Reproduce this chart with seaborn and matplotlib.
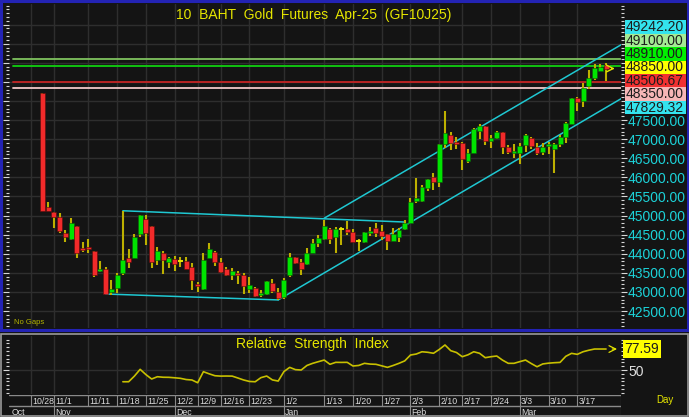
import numpy as np
import pandas as pd
import matplotlib
matplotlib.use("Agg")
import matplotlib.pyplot as plt
import matplotlib.transforms as mtransforms
from matplotlib.patches import Rectangle
from matplotlib.ticker import MultipleLocator, FuncFormatter
import seaborn as sns

# ---- data -------------------------------------------------------------
# TFEX trading calendar (Thai market holidays removed)
cal_start, cal_end = "2024-10-28", "2025-03-24"
holidays = ["2024-12-05", "2024-12-10", "2024-12-31", "2025-01-01", "2025-02-12"]
first_bar = "2024-10-30"

opens = [48210, 45215, 45085, 44955, 44550, 44375, 44735, 44155, 44175, 44080,
         43545, 43590, 43000, 43110, 43485, 43895, 43890, 44515, 44900, 44735,
         43835, 44025, 43790, 43870, 43810, 43810, 43660, 43205, 43075, 43880,
         44050, 43775, 43600, 43435, 43505, 43435, 43085, 43100, 42910, 42935,
         43225, 43005, 42860, 43435, 43905, 43785, 43740, 44025, 44290, 44395,
         44655, 44430, 44640, 44640, 44570, 44325, 44315, 44535, 44665, 44585,
         44510, 44340, 44430, 44640, 44810, 45390, 45390, 45710, 46000, 45885,
         46865, 47110, 46915, 46890, 46425, 46645, 47210, 47345, 46950, 47020,
         47180, 46800, 46645, 46630, 46845, 47035, 46800, 46670, 46810, 46740,
         46865, 47050, 47390, 48085, 48000, 48400, 48610, 48790, 48940]
highs = [48210, 45360, 45085, 45060, 44620, 44925, 44735, 44305, 44375, 44080,
         43810, 43660, 43310, 43505, 45125, 44115, 44515, 45005, 45005, 44735,
         44175, 44080, 43920, 43940, 43915, 43905, 43765, 43265, 44010, 44270,
         44070, 43895, 43660, 43620, 43555, 43485, 43380, 43120, 43050, 43285,
         43330, 43095, 43355, 44010, 43920, 43855, 44155, 44375, 44490, 44880,
         44680, 44705, 44705, 44865, 44640, 44375, 44575, 44700, 44810, 44750,
         44510, 44665, 44680, 44880, 45450, 45975, 45800, 45955, 46120, 46865,
         47735, 47180, 47065, 46915, 46740, 47300, 47390, 47345, 47110, 47210,
         47180, 46845, 46865, 46890, 47125, 47055, 46890, 46890, 46935, 46900,
         47110, 47455, 48085, 48110, 48460, 48810, 48960, 48960, 48985]
lows = [45120, 45120, 44665, 44535, 44315, 44360, 43895, 44050, 44010, 43380,
        43530, 42945, 42920, 42965, 43440, 43620, 43890, 44445, 44230, 43635,
        43705, 43460, 43635, 43555, 43660, 43590, 43050, 43005, 43050, 43880,
        43685, 43485, 43425, 43310, 43205, 42935, 42965, 42875, 42860, 42920,
        42965, 42790, 42815, 43380, 43730, 43440, 43705, 44010, 44185, 44360,
        44255, 44010, 44230, 44490, 44315, 44080, 44290, 44465, 44445, 44360,
        44095, 44340, 44315, 44620, 44810, 45335, 45360, 45650, 45670, 45755,
        46760, 46715, 46740, 46190, 46365, 46645, 47005, 46845, 46775, 47005,
        46600, 46600, 46515, 46340, 46670, 46740, 46585, 46585, 46600, 46105,
        46800, 46890, 47390, 47735, 47850, 48310, 48550, 48785, 48520]
closes = [45120, 45120, 44955, 44595, 44445, 44810, 44025, 44095, 44115, 43440,
          43590, 42945, 43070, 43450, 43835, 43790, 44430, 45005, 44550, 43790,
          44080, 43845, 43880, 43730, 43810, 43605, 43310, 43155, 43835, 44115,
          43790, 43515, 43440, 43555, 43450, 43160, 43180, 42900, 42980, 43285,
          43025, 42830, 43310, 43905, 43765, 43590, 44010, 44290, 44420, 44725,
          44375, 44655, 44640, 44570, 44315, 44325, 44560, 44585, 44550, 44465,
          44340, 44510, 44620, 44810, 45360, 45465, 45755, 45955, 45870, 46865,
          47150, 46890, 46865, 46470, 46645, 47265, 47350, 46950, 47020, 47180,
          46800, 46670, 46695, 46830, 47110, 46820, 46630, 46800, 46865, 46865,
          47065, 47415, 48070, 47980, 48345, 48610, 48870, 48895, 48850]

rsi_start = "2024-11-19"
rsi = [34.6, 34.6, 42.0, 50.9, 44.0, 38.2, 41.2, 40.5, 40.4, 39.8,
       39.1, 37.5, 36.9, 33.3, 47.8, 45.0, 42.5, 42.0, 42.1, 42.0,
       39.5, 36.9, 35.0, 34.6, 40.0, 42.1, 37.0, 35.5, 48.0, 53.5,
       50.5, 50.0, 56.0, 58.8, 61.0, 63.1, 57.5, 60.1, 60.0, 60.1,
       55.3, 56.0, 58.8, 57.8, 57.5, 55.5, 53.5, 56.0, 58.8, 62.0,
       69.7, 71.0, 74.0, 73.3, 72.0, 77.0, 82.9, 75.4, 73.0, 67.5,
       70.0, 74.0, 72.0, 66.2, 67.5, 68.4, 63.0, 58.8, 58.8, 61.0,
       63.1, 58.5, 54.3, 58.0, 59.0, 59.6, 60.0, 68.0, 71.9, 70.6,
       74.0, 76.0, 77.6, 77.6, 77.59]

tick_dates = ["2024-10-28", "2024-11-01", "2024-11-11", "2024-11-18", "2024-11-25",
              "2024-12-02", "2024-12-09", "2024-12-16", "2024-12-23", "2025-01-02",
              "2025-01-13", "2025-01-20", "2025-01-27", "2025-02-03", "2025-02-10",
              "2025-02-17", "2025-02-24", "2025-03-03", "2025-03-10", "2025-03-17"]
month_labels = ["Oct", "Nov", "Dec", "Jan", "Feb", "Mar"]

# trend lines: (dates, prices)
flag_top = (["2024-11-19", "2025-01-31"], [45125, 44830])
flag_bottom = (["2024-11-14", "2024-12-30"], [42945, 42790])
chan_upper = (["2025-01-13", "2025-03-24"], [44930, 49242.20])
chan_lower = (["2024-12-30", "2025-03-24"], [42790, 47829.32])

level_values = [49100.00, 48910.00, 48506.67, 48350.00]
level_colors = ["#7fc35f", "#10d010", "#c42424", "#f0c8c8"]

box_values = [49242.20, 49100.00, 48910.00, 48850.00, 48506.67, 48350.00, 47829.32]
box_colors = ["#33e3ee", "#a4ea94", "#00f000", "#ffff00", "#f03030", "#f6b6b6", "#33e3ee"]
last_price = 48850.00
last_rsi = 77.59

title = "10  BAHT  Gold  Futures  Apr-25  (GF10J25)"

# ---- style ------------------------------------------------------------
bg = "#141414"
gridc = "#2e2e2e"
green = "#00e400"
red = "#f22a2a"
wick = "#bdb000"
yellow = "#e6e600"
cyan = "#1cd2d8"

sns.set_theme(style="dark", rc={"axes.facecolor": bg, "figure.facecolor": bg,
                                "savefig.facecolor": bg})
plt.rcParams["font.family"] = ["Liberation Sans", "DejaVu Sans"]

W, H = 689, 417
fig = plt.figure(figsize=(W / 100, H / 100), dpi=100)


def frect(x0, y0, x1, y1):
    return [x0 / W, 1 - y1 / H, (x1 - x0) / W, (y1 - y0) / H]


ax = fig.add_axes(frect(9, 4, 621, 328))
ax2 = fig.add_axes(frect(9, 336, 621, 394))
ax3 = fig.add_axes(frect(9, 395, 621, 417))

# positions on the trading-day scale
cal = pd.bdate_range(cal_start, cal_end)
cal = cal[~cal.isin(pd.to_datetime(holidays))]
pos = {d: k for k, d in enumerate(cal)}


def p(d):
    return pos[pd.Timestamp(d)]


bars = pd.DataFrame({"x": np.arange(p(first_bar), len(cal)),
                     "open": opens, "high": highs, "low": lows, "close": closes})
xlim = (-3.8, 102.6)
ylim = (42055, 50540)

# ---- main panel -------------------------------------------------------
ax.vlines(bars["x"], bars["low"], bars["high"], color=wick, lw=1.5, zorder=3)
up = bars[bars["close"] > bars["open"]]
dn = bars[bars["close"] < bars["open"]]
dj = bars[bars["close"] == bars["open"]]
ax.bar(up["x"], up["close"] - up["open"], bottom=up["open"], width=0.86,
       color=green, edgecolor="#0a5a0a", lw=0.4, zorder=4)
ax.bar(dn["x"], dn["open"] - dn["close"], bottom=dn["close"], width=0.86,
       color=red, edgecolor="#5a0a0a", lw=0.4, zorder=4)
ax.hlines(dj["open"], dj["x"] - 0.45, dj["x"] + 0.45, color=yellow, lw=1.4, zorder=4)

for (dates, vals), extend in [(flag_top, False), (flag_bottom, False),
                              (chan_upper, True), (chan_lower, True)]:
    xs = [p(d) for d in dates]
    ys = list(vals)
    if extend:
        slope = (ys[1] - ys[0]) / (xs[1] - xs[0])
        ys.append(ys[1] + slope * (xlim[1] - xs[1]))
        xs.append(xlim[1])
    sns.lineplot(x=xs, y=ys, ax=ax, color="#1fc8d2", lw=1.1, zorder=2, sort=False)

for v, c in zip(level_values, level_colors):
    ax.axhline(v, xmin=4 / 612, xmax=1, color=c, lw=1.3, zorder=1.5)

ax.annotate("", xy=(xlim[1] - 0.6, last_price), xytext=(bars["x"].iloc[-1] + 0.5, last_price),
            arrowprops=dict(arrowstyle="->", color=yellow, lw=1.0), zorder=5)

ax.set_xlim(*xlim)
ax.set_ylim(*ylim)
ax.set_xticks([p(d) for d in tick_dates])
ax.set_yticks(np.arange(42500, 50001, 500))
ax.yaxis.set_minor_locator(MultipleLocator(100))
# the stacked value boxes cover the upper tick labels
ax.yaxis.set_major_formatter(FuncFormatter(lambda v, _: f"{v:.2f}" if v <= 47500 else ""))
ax.grid(True, color=gridc, lw=1)
ax.tick_params(axis="x", bottom=False, labelbottom=False)
ax.tick_params(axis="y", which="both", left=True, right=True, labelleft=False,
               labelright=True, direction="out", color="#d8d8d8", width=0.8)
ax.tick_params(axis="y", which="major", length=4, labelsize=10, labelcolor=cyan, pad=1)
ax.tick_params(axis="y", which="minor", length=2)
for s in ax.spines.values():
    s.set_visible(False)

# stacked value boxes on the right
ppx = (ylim[1] - ylim[0]) / 324.0
pitch = 13.4 * ppx
trans = mtransforms.blended_transform_factory(ax.transAxes, ax.transData)
ypos = box_values[-1]
for v, c in zip(box_values[::-1], box_colors[::-1]):
    ax.add_patch(Rectangle((1.006, ypos - pitch / 2), 0.1, pitch, transform=trans,
                           facecolor=c, edgecolor="none", clip_on=False, zorder=10))
    ax.text(1.008, ypos, f"{v:.2f}", transform=trans, ha="left", va="center",
            fontsize=10, color="#1c1c1c", clip_on=False, zorder=11)
    ypos += pitch

ax.text(0.498, 0.966, title, transform=ax.transAxes, ha="center", va="center",
        fontsize=10, color=yellow)
ax.text(0.008, 0.018, "No Gaps", transform=ax.transAxes, ha="left", va="center",
        fontsize=5.5, color="#b4b400")

# ---- RSI panel --------------------------------------------------------
rsi_x = np.arange(p(rsi_start), p(rsi_start) + len(rsi))
sns.lineplot(x=rsi_x, y=rsi, ax=ax2, color="#c8c000", lw=1.2)
ax2.set_xlim(*xlim)
ax2.set_ylim(18.5, 94.7)
ax2.set_xticks([p(d) for d in tick_dates])
ax2.set_yticks([50])
ax2.yaxis.set_minor_locator(MultipleLocator(5))
ax2.grid(True, color=gridc, lw=1)
ax2.tick_params(axis="x", bottom=False, labelbottom=False)
ax2.tick_params(axis="y", which="both", left=True, right=True, labelleft=False,
                labelright=True, direction="out", color="#d8d8d8", width=0.8)
ax2.tick_params(axis="y", which="major", length=4, labelsize=10, labelcolor="#e0e0e0", pad=1)
ax2.tick_params(axis="y", which="minor", length=2)
ax2.set_xlabel("")
ax2.set_ylabel("")
for s in ax2.spines.values():
    s.set_visible(False)
ax2.text(0.495, 0.86, "Relative  Strength  Index", transform=ax2.transAxes,
         ha="center", va="center", fontsize=10, color=yellow)
ax2.text(1.006, last_rsi, f"{last_rsi:.2f}", transform=mtransforms.blended_transform_factory(
    ax2.transAxes, ax2.transData), ha="left", va="center", fontsize=10, color="#1c1c1c",
    clip_on=False, zorder=11, bbox=dict(boxstyle="square,pad=0.12", fc="#ffff00", ec="none"))
ax2.annotate("", xy=(xlim[1] - 0.2, last_rsi), xytext=(rsi_x[-1] + 0.6, last_rsi),
             arrowprops=dict(arrowstyle="->", color=yellow, lw=0.9))

# ---- date axis --------------------------------------------------------
ax3.set_xlim(*xlim)
ax3.set_ylim(0, 2)
ax3.axis("off")
linec = "#8a8a8a"
ax3.plot(xlim, [2, 2], color=linec, lw=1)
ax3.plot(xlim, [1, 1], color=linec, lw=1)
for d in tick_dates:
    x = p(d)
    ts = pd.Timestamp(d)
    ax3.plot([x, x], [1, 2], color=linec, lw=0.8)
    ax3.text(x + 0.2, 1.42, f"{ts.month}/{ts.day}", ha="left", va="center",
             fontsize=6.3, color="#dcdcdc")
month_first = cal.to_series().groupby(cal.to_period("M")).first()
for m, (per, d) in zip(month_labels, month_first.items()):
    x = pos[d]
    if x > 0:
        ax3.plot([x, x], [0, 1], color=linec, lw=0.8)
    else:
        x = xlim[0] + 0.3
    ax3.text(x + 0.2, 0.45, m, ha="left", va="center", fontsize=6.3, color="#dcdcdc")
ax3.plot([xlim[1], xlim[1]], [0, 2], color=linec, lw=0.8)
fig.text(665 / W, 1 - 400 / H, "Day", ha="center", va="center", fontsize=7, color=yellow)

# ---- panel frames -----------------------------------------------------
fig.patches.append(Rectangle((1 / W, 1 - 330 / H), 687 / W, 329 / H, transform=fig.transFigure,
                             fill=False, edgecolor="#2323b4", lw=2.2))
fig.patches.append(Rectangle((1 / W, 1 / H), 687 / W, 82 / H, transform=fig.transFigure,
                             fill=False, edgecolor="#9a9a9a", lw=1.2))

fig.savefig("out.png", dpi=100)
